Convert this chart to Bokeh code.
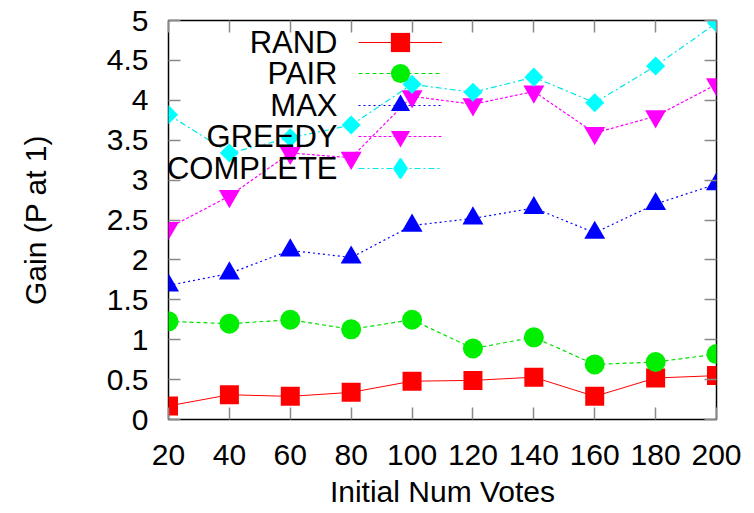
import numpy as np
from bokeh.plotting import figure
from bokeh.models import (Range1d, FixedTicker, LinearAxis, Legend, LegendItem, Label)
from bokeh.embed import file_html
from bokeh.resources import INLINE

# ---- data ----
votes = [20, 40, 60, 80, 100, 120, 140, 160, 180, 200]
rand_gain = [0.17, 0.31, 0.29, 0.34, 0.48, 0.49, 0.53, 0.29, 0.52, 0.55]
pair_gain = [1.23, 1.20, 1.25, 1.13, 1.25, 0.89, 1.03, 0.69, 0.72, 0.82]
max_gain = [1.68, 1.83, 2.12, 2.03, 2.43, 2.52, 2.65, 2.34, 2.70, 2.95]
greedy_gain = [2.40, 2.80, 3.34, 3.28, 4.05, 3.95, 4.11, 3.59, 3.80, 4.20]
complete_gain = [3.82, 3.34, 3.53, 3.69, 4.20, 4.10, 4.29, 3.97, 4.43, 4.97]
series_names = ["RAND", "PAIR", "MAX", "GREEDY", "COMPLETE"]
x_ticks = [20, 40, 60, 80, 100, 120, 140, 160, 180, 200]
y_ticks = [0, 0.5, 1, 1.5, 2, 2.5, 3, 3.5, 4, 4.5, 5]
y_tick_labels = ["0", "0.5", "1", "1.5", "2", "2.5", "3", "3.5", "4", "4.5", "5"]
x_title = "Initial Num Votes"
y_title = "Gain (P at 1)"

FONT = "Liberation Sans"

p = figure(width=754, height=513, x_range=Range1d(20, 200), y_range=Range1d(0, 5),
           output_backend="svg", toolbar_location=None,
           min_border_left=168, min_border_right=38, min_border_top=20, min_border_bottom=94)
p.background_fill_color = "white"
p.border_fill_color = "white"
p.outline_line_color = "black"
p.outline_line_width = 1.5
p.xgrid.visible = False
p.ygrid.visible = False

TICK_COLOR = "#8a8a8a"

def style_axis(ax, ticks):
    ax.ticker = FixedTicker(ticks=ticks)
    ax.axis_line_color = None
    ax.major_tick_in = 12
    ax.major_tick_out = 0
    ax.minor_tick_in = 0
    ax.minor_tick_out = 0
    ax.major_tick_line_color = TICK_COLOR
    ax.major_tick_line_width = 1.5
    ax.major_label_text_font = FONT
    ax.major_label_text_font_size = "30px"
    ax.major_label_text_color = "black"
    ax.axis_label_text_font = FONT
    ax.axis_label_text_font_size = "30px"
    ax.axis_label_text_font_style = "normal"
    ax.axis_label_text_color = "black"

xax = p.xaxis[0]
style_axis(xax, x_ticks)
xax.major_label_standoff = 25
xax.axis_label = x_title
xax.axis_label_standoff = 7

yax = p.yaxis[0]
style_axis(yax, y_ticks)
yax.major_label_overrides = {t: s for t, s in zip(y_ticks, y_tick_labels)}
yax.major_label_standoff = 20
yax.axis_label = y_title
yax.axis_label_standoff = 52

top_ax = LinearAxis()
style_axis(top_ax, x_ticks)
top_ax.major_label_overrides = {t: "" for t in x_ticks}
top_ax.major_label_text_font_size = "1px"
top_ax.major_label_standoff = 0
p.add_layout(top_ax, "above")

right_ax = LinearAxis()
style_axis(right_ax, y_ticks)
right_ax.major_label_overrides = {t: "" for t in y_ticks}
right_ax.major_label_text_font_size = "1px"
right_ax.major_label_standoff = 0
p.add_layout(right_ax, "right")

# ---- series ----
r_line = p.line(votes, rand_gain, line_color="#ff0000", line_width=1)
r_pts = p.scatter(votes, rand_gain, marker="square", size=19, fill_color="#ff0000", line_color=None)

pa_line = p.line(votes, pair_gain, line_color="#00e000", line_width=1.2, line_dash="4 3")
pa_pts = p.scatter(votes, pair_gain, marker="circle", size=20, fill_color="#00ee00", line_color=None)

m_line = p.line(votes, max_gain, line_color="#0000ff", line_width=1.2, line_dash="2 3")
m_pts = p.scatter(votes, max_gain, marker="triangle", size=21, fill_color="#0000ff", line_color=None)

g_line = p.line(votes, greedy_gain, line_color="#ff00ff", line_width=1.2, line_dash="3 2")
g_pts = p.scatter(votes, greedy_gain, marker="inverted_triangle", size=21, fill_color="#ff00ff", line_color=None)

c_line = p.line(votes, complete_gain, line_color="#00e8e8", line_width=1.2, line_dash="6 3 2 3")
c_pts = p.scatter(votes, complete_gain, marker="square", size=13.5, angle=np.pi / 4,
                  fill_color="#00ffff", line_color=None)
# legend-only stand-in (legend samples are drawn unrotated)
c_key = p.scatter(votes, complete_gain, marker="diamond", size=20,
                  fill_color="#00ffff", line_color="#00ffff", line_width=2)
c_key.visible = False

# ---- key: one legend per row (glyph sample), right-aligned texts on the left ----
GLYPH_H = 48
ROW_TOP = 377.5   # centre of first row, px above frame bottom
ROW_STEP = 31.6
row_renderers = [[r_line, r_pts], [pa_line, pa_pts], [m_line, m_pts],
                 [g_line, g_pts], [c_line, c_key]]
for i, (name, rends) in enumerate(zip(series_names, row_renderers)):
    yc = ROW_TOP - i * ROW_STEP
    leg = Legend(items=[LegendItem(label=" ", renderers=rends)],
                 location=(190, yc - GLYPH_H / 2), glyph_width=84, glyph_height=GLYPH_H,
                 spacing=0, padding=0, margin=0, label_standoff=0, label_width=1,
                 label_height=1, label_text_font_size="1px",
                 background_fill_alpha=0, border_line_alpha=0)
    p.add_layout(leg)
    p.add_layout(Label(x=169, y=yc, x_units="screen", y_units="screen", text=name,
                       text_align="right", text_baseline="middle", text_font=FONT,
                       text_font_size="31px", text_color="black"))

open("out.html", "w").write(file_html(p, INLINE))
